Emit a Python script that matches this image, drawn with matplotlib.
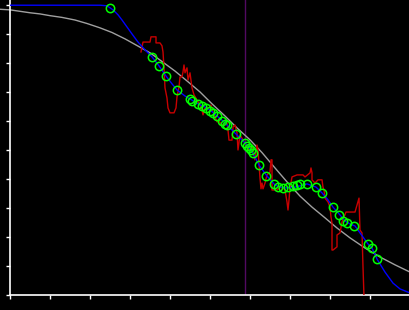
import matplotlib
matplotlib.use("Agg")
import matplotlib.pyplot as plt

# curva ajustada (gris)
fit_x = [-0.25, 0.0, 0.25, 0.5, 0.75, 1.0, 1.3, 1.625, 1.925, 2.25, 2.55, 2.875,
         3.175, 3.5, 3.8, 4.125, 4.425, 4.75, 5.05, 5.375, 5.675, 6.0, 6.3,
         6.625, 6.925, 7.25, 7.55, 7.875, 8.175, 8.5, 8.875, 9.25, 9.625, 10.0]
fit_y = [9.85, 9.83, 9.78, 9.73, 9.69, 9.63, 9.57, 9.48, 9.36, 9.21, 9.05, 8.83,
         8.60, 8.35, 8.05, 7.72, 7.38, 7.0, 6.59, 6.17, 5.76, 5.35, 4.91,
         4.38, 3.90, 3.41, 3.03, 2.66, 2.31, 1.97, 1.62, 1.31, 1.04, 0.79]

# linea suavizada (azul)
smooth_x = [0.0, 2.25, 2.425, 2.5, 2.575, 2.7, 2.8, 2.925, 3.05, 3.2, 3.375, 3.55,
            3.725, 3.9, 4.05, 4.175, 4.375, 4.5, 4.7, 4.875, 5.025, 5.175, 5.325,
            5.425, 5.65, 5.875, 6.025, 6.125, 6.225, 6.425, 6.625, 6.75, 6.9,
            7.125, 7.25, 7.425, 7.65, 7.8, 7.95, 8.075, 8.25, 8.375, 8.5, 8.625,
            8.75, 8.95, 9.05, 9.175, 9.375, 9.575, 9.75, 10.0]
smooth_y = [9.99, 9.99, 9.97, 9.90, 9.83, 9.66, 9.48, 9.24, 9.0, 8.72, 8.45, 8.21,
            7.90, 7.55, 7.28, 7.07, 6.86, 6.76, 6.59, 6.48, 6.35, 6.17, 6.0,
            5.86, 5.55, 5.24, 5.0, 4.76, 4.48, 4.10, 3.79, 3.72, 3.69,
            3.72, 3.76, 3.83, 3.72, 3.52, 3.28, 3.03, 2.76, 2.55, 2.45, 2.38,
            2.14, 1.76, 1.62, 1.24, 0.79, 0.41, 0.21, 0.07]

# datos crudos (rojo)
raw_x = [3.275, 3.325, 3.5, 3.525, 3.65, 3.65, 3.75, 3.8, 3.825, 3.85, 3.875, 3.925,
         3.95, 4.0, 4.1, 4.15, 4.175, 4.225, 4.25, 4.3, 4.325, 4.35, 4.375, 4.425,
         4.45, 4.5, 4.55, 4.6, 4.675, 4.75, 4.8, 4.825, 4.875, 4.975, 5.025, 5.075,
         5.125, 5.175, 5.2, 5.3, 5.425, 5.45, 5.475, 5.55, 5.575, 5.625, 5.675, 5.7,
         5.75, 5.825, 5.875, 5.925, 5.975, 6.05, 6.075, 6.125, 6.175, 6.2, 6.25,
         6.275, 6.3, 6.325, 6.375, 6.425, 6.5, 6.525, 6.55, 6.55, 6.675, 6.75,
         6.825, 6.875, 6.925, 6.95, 6.975, 7.0, 7.05, 7.175, 7.325, 7.375, 7.5,
         7.525, 7.55, 7.55, 7.625, 7.7, 7.8, 7.825, 7.85, 7.875, 7.95, 8.0, 8.025,
         8.05, 8.05, 8.075, 8.175, 8.175, 8.25, 8.3, 8.35, 8.4, 8.55, 8.625, 8.675,
         8.725, 8.75, 8.8, 8.825, 8.85, 9.275]
raw_y = [8.38, 8.72, 8.72, 8.90, 8.90, 8.69, 8.69, 8.59, 8.38, 7.83, 7.14, 6.79,
         6.45, 6.28, 6.28, 6.45, 6.83, 7.17, 7.52, 7.52, 7.69, 7.93, 7.66, 7.83,
         7.41, 7.66, 7.14, 6.90, 6.72, 6.55, 6.38, 6.21, 6.45, 6.45, 6.55, 6.31,
         6.14, 5.97, 6.03, 5.86, 5.93, 5.69, 5.34, 5.34, 5.79, 5.86, 5.59, 5.0,
         5.52, 5.34, 5.24, 5.07, 5.0, 5.17, 4.90, 4.66, 5.17, 5.0, 4.03,
         3.66, 3.86, 3.66, 3.86, 4.14, 4.24, 4.66, 4.66, 3.62, 3.62, 3.72,
         3.69, 3.62, 3.21, 2.93, 3.28, 3.69, 4.07, 4.14, 4.14, 4.07, 4.21,
         4.38, 4.21, 3.97, 3.86, 3.97, 3.97, 3.72, 3.62, 3.34, 3.21, 3.03, 2.69,
         2.48, 1.55, 1.55, 1.66, 2.07, 2.14, 2.52, 2.69, 2.86, 2.86, 2.86, 3.10,
         3.34, 2.24, 2.14, 0.97, -0.07, -0.07]

# puntos seleccionados (verde)
pts_x = [2.5, 3.55, 3.725, 3.9, 4.175, 4.5, 4.55, 4.7, 4.8, 4.9, 5.0, 5.075, 5.175,
         5.3, 5.375, 5.425, 5.65, 5.875, 5.925, 5.975, 6.025, 6.075, 6.225, 6.4,
         6.6, 6.7, 6.825, 6.95, 7.075, 7.175, 7.25, 7.425, 7.65, 7.8, 8.075,
         8.225, 8.325, 8.425, 8.6, 8.95, 9.05, 9.175]
pts_y = [9.90, 8.21, 7.90, 7.55, 7.07, 6.76, 6.69, 6.59, 6.52, 6.45, 6.35, 6.28,
         6.17, 6.0, 5.90, 5.86, 5.55, 5.24, 5.14, 5.07, 5.0, 4.90, 4.48, 4.10,
         3.83, 3.72, 3.69, 3.72, 3.76, 3.79, 3.83, 3.83, 3.72, 3.52, 3.03,
         2.76, 2.55, 2.48, 2.38, 1.76, 1.62, 1.24]

x_marca = 5.875

fig = plt.figure(figsize=(4.1, 3.1), dpi=100, facecolor='black')
ax = fig.add_axes([10/410, 15/310, 400/410, 295/310])
ax.set_facecolor('black')

ax.axvline(x_marca, color='#520a62', linewidth=1, zorder=1)
ax.plot(fit_x, fit_y, color='#a0a0a0', linewidth=1, zorder=2, clip_on=False)
ax.plot(raw_x, raw_y, color='#c80000', linewidth=1, zorder=3)
ax.plot(smooth_x, smooth_y, color='#0000ff', linewidth=1, zorder=4)
ax.plot(pts_x, pts_y, linestyle='none', marker='o', markersize=6,
        markerfacecolor='none', markeredgecolor='#00ff00', markeredgewidth=1.1, zorder=5)

ax.set_xlim(0, 10)
ax.set_ylim(0, 10.17)
ax.set_xticks(range(11))
ax.set_yticks(range(11))
ax.set_xticklabels([])
ax.set_yticklabels([])
ax.tick_params(colors='white', direction='out', length=3, width=1)
for lado in ['top', 'right']:
    ax.spines[lado].set_visible(False)
for lado in ['left', 'bottom']:
    ax.spines[lado].set_color('white')
    ax.spines[lado].set_linewidth(1.2)

fig.savefig('out.png', dpi=100, facecolor='black')
